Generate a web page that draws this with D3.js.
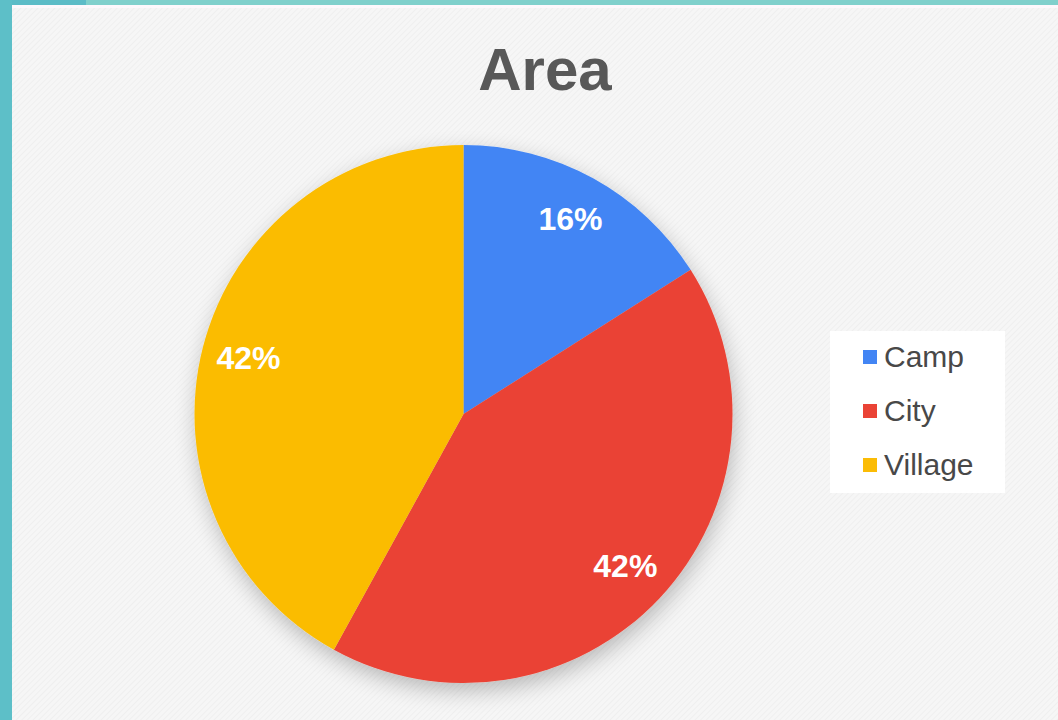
<!DOCTYPE html>
<html><head><meta charset="utf-8">
<script src="https://cdn.jsdelivr.net/npm/d3@7"></script>
<style>html,body{margin:0;padding:0;background:#f4f4f4;}svg{display:block;}</style>
</head><body>
<svg id="chart" width="1058" height="720"></svg>
<script>
const categories = ["Camp", "City", "Village"];
const values = [16, 42, 42];
const colors = ["#4285f4", "#ea4335", "#fbbc05"];
const title = "Area";

const svg = d3.select("#chart");
const W = 1058, H = 720;
const defs = svg.append("defs");
const pat = defs.append("pattern").attr("id","tex").attr("width",4).attr("height",4)
  .attr("patternUnits","userSpaceOnUse").attr("patternTransform","rotate(45)");
pat.append("rect").attr("width",4).attr("height",4).attr("fill","#f6f6f6");
pat.append("rect").attr("width",1).attr("height",4).attr("fill","#efefef");
const f = defs.append("filter").attr("id","shadow").attr("x","-20%").attr("y","-20%").attr("width","140%").attr("height","140%");
f.append("feGaussianBlur").attr("in","SourceAlpha").attr("stdDeviation",11);
f.append("feOffset").attr("dx",2).attr("dy",8).attr("result","b");
f.append("feComponentTransfer").append("feFuncA").attr("type","linear").attr("slope",0.25);
const m = f.append("feMerge"); m.append("feMergeNode"); m.append("feMergeNode").attr("in","SourceGraphic");

svg.append("rect").attr("width",W).attr("height",H).attr("fill","url(#tex)");
// frame borders
svg.append("rect").attr("x",0).attr("y",0).attr("width",W).attr("height",5).attr("fill","#80d0cc");
svg.append("rect").attr("x",0).attr("y",0).attr("width",86).attr("height",5).attr("fill","#5cbcc7");
svg.append("rect").attr("x",0).attr("y",0).attr("width",12).attr("height",H).attr("fill","#5dbfc8");
svg.append("rect").attr("x",12).attr("y",5).attr("width",W-12).attr("height",3).attr("fill","#fdf8fc");

svg.append("text").attr("x",545).attr("y",90).attr("text-anchor","middle")
  .attr("font-family","Liberation Sans, Arial, sans-serif").attr("font-weight","bold")
  .attr("font-size",60).attr("fill","#585858").text(title);

const cx = 463.5, cy = 414, R = 269;
const pie = d3.pie().sort(null).value(d => d)(values);
const arc = d3.arc().innerRadius(0).outerRadius(R);
const labelArc = d3.arc().innerRadius(222).outerRadius(222);
const g = svg.append("g").attr("transform",`translate(${cx},${cy})`);
const gp = g.append("g").attr("filter","url(#shadow)");
gp.selectAll("path").data(pie).join("path").attr("d",arc).attr("fill",(d,i)=>colors[i]);
const total = d3.sum(values);
g.selectAll("text").data(pie).join("text")
  .attr("transform",d=>`translate(${labelArc.centroid(d)})`)
  .attr("text-anchor","middle").attr("dy","0.33em")
  .attr("font-family","Liberation Sans, Arial, sans-serif").attr("font-weight","bold")
  .attr("font-size",32).attr("fill","#ffffff")
  .text(d=>Math.round(d.value/total*100)+"%");

// legend
const lg = svg.append("g");
lg.append("rect").attr("x",830).attr("y",331).attr("width",175).attr("height",162).attr("fill","#ffffff");
const y = d3.scalePoint().domain(categories).range([357, 465]);
const items = lg.selectAll("g.it").data(categories).join("g").attr("class","it")
  .attr("transform",d=>`translate(863,${y(d)})`);
items.append("rect").attr("x",0).attr("y",-7).attr("width",14).attr("height",14).attr("fill",(d,i)=>colors[i]);
items.append("text").attr("x",21).attr("y",10)
  .attr("font-family","Liberation Sans, Arial, sans-serif").attr("font-size",30)
  .attr("fill","#484848").text(d=>d);
</script>
</body></html>
